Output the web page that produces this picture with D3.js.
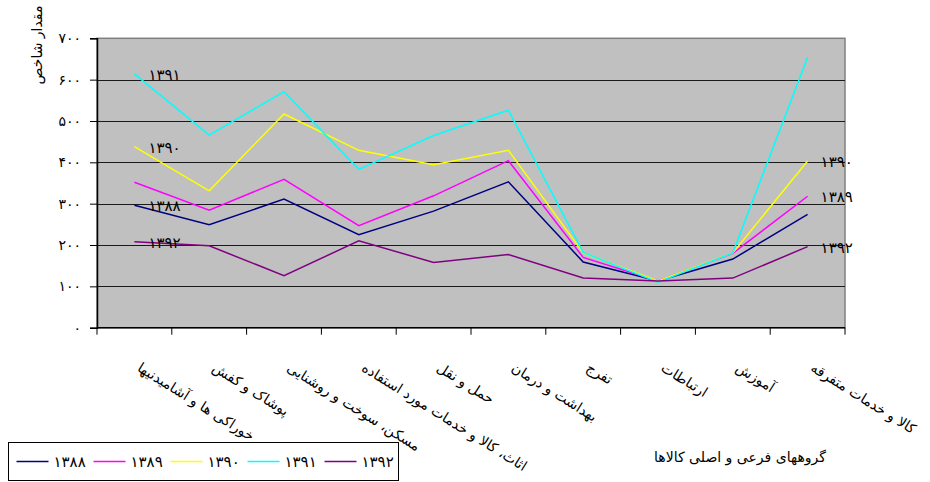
<!DOCTYPE html>
<html>
<head>
<meta charset="utf-8">
<script src="https://cdn.jsdelivr.net/npm/d3@7"></script>
<style>
  body { margin: 0; background: #fff; }
  text { font-family: "DejaVu Sans", sans-serif; fill: #000; }
</style>
</head>
<body>
<div id="chart"></div>
<script>
// categories (left to right)
const categories = [
  "خوراکی ها و آشامیدنیها",
  "پوشاک و کفش",
  "مسکن، سوخت و روشنایی",
  "اثاث، کالا و خدمات مورد استفاده",
  "حمل و نقل",
  "بهداشت و درمان",
  "تفرج",
  "ارتباطات",
  "آموزش",
  "کالا و خدمات متفرقه"
];

const years = ["۱۳۸۸", "۱۳۸۹", "۱۳۹۰", "۱۳۹۱", "۱۳۹۲"];
const colors = ["#000080", "#ff00ff", "#ffff00", "#00ffff", "#800080"];

// values
const v1388 = [296, 249, 311, 225, 282, 353, 159, 113, 166, 274];
const v1389 = [352, 284, 359, 247, 319, 404, 170, 113, 180, 318];
const v1390 = [438, 331, 517, 429, 394, 429, 181, 113, 181, 403];
const v1391 = [614, 466, 571, 383, 465, 526, 182, 110, 181, 654];
const v1392 = [208, 198, 126, 210, 158, 177, 120, 113, 120, 196];
const series = [v1388, v1389, v1390, v1391, v1392];

const yTicks = [0, 100, 200, 300, 400, 500, 600, 700];
const yTickLabels = ["۰", "۱۰۰", "۲۰۰", "۳۰۰", "۴۰۰", "۵۰۰", "۶۰۰", "۷۰۰"];

// series labels drawn inside the plot: [series index, category index]
const leftLabels = [3, 2, 0, 4];
const rightLabels = [2, 1, 4];

const W = 930, H = 482;
const plot = {left: 97, right: 845, top: 38.3, bottom: 327.7};

const svg = d3.select("#chart").append("svg")
  .attr("width", W)
  .attr("height", H);

const x = d3.scaleBand()
  .domain(d3.range(categories.length))
  .range([plot.left, plot.right]);

const y = d3.scaleLinear()
  .domain([0, 700])
  .range([plot.bottom, plot.top]);

// plot background
svg.append("rect")
  .attr("x", plot.left)
  .attr("y", plot.top)
  .attr("width", plot.right - plot.left)
  .attr("height", plot.bottom - plot.top)
  .attr("fill", "#c0c0c0")
  .attr("stroke", "#808080")
  .attr("stroke-width", 1.5);

// gridlines
svg.append("g")
  .selectAll("line")
  .data(yTicks.filter(d => d > 0 && d < 700))
  .join("line")
  .attr("x1", plot.left)
  .attr("x2", plot.right)
  .attr("y1", d => Math.round(y(d)) + 0.5)
  .attr("y2", d => Math.round(y(d)) + 0.5)
  .attr("stroke", "#1a1a1a")
  .attr("stroke-width", 1);

// y axis
const yAxis = d3.axisLeft(y)
  .tickValues(yTicks)
  .tickFormat((d, i) => yTickLabels[i])
  .tickSize(7)
  .tickPadding(9);

const y_axis = svg.append("g")
  .attr("transform", `translate(${plot.left},0)`)
  .call(yAxis);
y_axis.select(".domain").attr("stroke", "#000").attr("stroke-width", 1.5);
y_axis.selectAll(".tick line").attr("stroke", "#000");
y_axis.selectAll("text")
  .style("font-family", "DejaVu Sans")
  .style("font-size", "14px");

// x axis: ticks on category boundaries
const bounds = d3.range(categories.length + 1).map(i => plot.left + i * x.bandwidth());
const x_axis = svg.append("g");
x_axis.append("line")
  .attr("x1", plot.left).attr("x2", plot.right)
  .attr("y1", plot.bottom).attr("y2", plot.bottom)
  .attr("stroke", "#000").attr("stroke-width", 1.5);
x_axis.selectAll(".xt")
  .data(bounds)
  .join("line")
  .attr("class", "xt")
  .attr("x1", d => d).attr("x2", d => d)
  .attr("y1", plot.bottom).attr("y2", plot.bottom + 7)
  .attr("stroke", "#000");

// category labels, rotated
svg.append("g")
  .selectAll("text")
  .data(categories)
  .join("text")
  .attr("transform", (d, i) => `translate(${x(i) + x.bandwidth() / 2 + 8},${plot.bottom + 33}) rotate(32)`)
  .attr("dy", "0.8em")
  .attr("text-anchor", "start")
  .style("font-size", "14px")
  .text(d => d);

// lines
const line = d3.line()
  .x((d, i) => x(i) + x.bandwidth() / 2)
  .y(d => y(d));

svg.append("g")
  .selectAll("path")
  .data(series)
  .join("path")
  .attr("d", d => line(d))
  .attr("fill", "none")
  .attr("stroke", (d, i) => colors[i])
  .attr("stroke-width", 1.5);

// series labels at start and end
const labels = svg.append("g").style("font-size", "15px");
labels.selectAll(".ll")
  .data(leftLabels)
  .join("text")
  .attr("class", "ll")
  .attr("x", x(0) + x.bandwidth() / 2 + 14)
  .attr("y", s => y(series[s][0]) + 6)
  .text(s => years[s]);
const last = categories.length - 1;
labels.selectAll(".rl")
  .data(rightLabels)
  .join("text")
  .attr("class", "rl")
  .attr("x", x(last) + x.bandwidth() / 2 + 13)
  .attr("y", s => y(series[s][last]) + 6)
  .text(s => years[s]);

// axis titles
svg.append("text")
  .attr("transform", `translate(42,45) rotate(-90)`)
  .attr("text-anchor", "middle")
  .style("font-size", "14px")
  .text("مقدار شاخص");

svg.append("text")
  .attr("x", 740)
  .attr("y", 462)
  .attr("text-anchor", "middle")
  .style("font-size", "14px")
  .text("گروههای فرعی و اصلی کالاها");

// legend
const legend = svg.append("g").attr("transform", "translate(8.5,442.5)");
legend.append("rect")
  .attr("width", 390)
  .attr("height", 38)
  .attr("fill", "#fff")
  .attr("stroke", "#000");
const item = legend.selectAll(".item")
  .data(years)
  .join("g")
  .attr("class", "item")
  .attr("transform", (d, i) => `translate(${8 + i * 77},19)`);
item.append("line")
  .attr("x1", 0).attr("x2", 32)
  .attr("stroke", (d, i) => colors[i])
  .attr("stroke-width", 1.5);
item.append("text")
  .attr("x", 37)
  .attr("y", 5)
  .style("font-size", "15px")
  .text(d => d);
</script>
</body>
</html>
